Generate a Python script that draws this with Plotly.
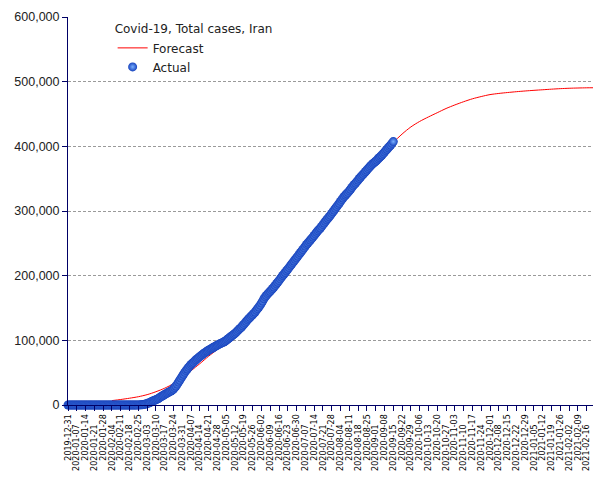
import plotly.graph_objects as go
import pandas as pd

# ---------------- data ----------------
actual_start = "2019-12-31"
actual_cases = [
    # 2019-12-31 .. 2020-02-18
    0, 0, 0, 0, 0, 0, 0, 0, 0, 0, 0, 0, 0, 0, 0, 0, 0, 0, 0, 0, 0, 0, 0, 0, 0,
    0, 0, 0, 0, 0, 0, 0, 0, 0, 0, 0, 0, 0, 0, 0, 0, 0, 0, 0, 0, 0, 0, 0, 0, 0,
    # 2020-02-19 .. 2020-02-29
    2, 5, 18, 28, 43, 61, 95, 139, 245, 388, 593,
    # March
    978, 1501, 2336, 2922, 3513, 4747, 5823, 6566, 7161, 8042, 9000, 10075, 11364,
    12729, 13938, 14991, 16169, 17361, 18407, 19644, 20610, 21638, 23049, 24811,
    27017, 29406, 32332, 35408, 38309, 41495, 44605,
    # April
    47593, 50468, 53183, 55743, 58226, 60500, 62589, 64586, 66220, 68192, 70029,
    71686, 73303, 74877, 76389, 77995, 79494, 80868, 82211, 83505, 84802, 85996,
    87026, 88194, 89328, 90481, 91472, 92584, 93657, 94640,
    # May
    95646, 96448, 97424, 98647, 99970, 101650, 103135, 104691, 106220, 107603,
    109286, 110767, 112725, 114533, 116635, 118392, 120198, 122492, 124603, 126949,
    129341, 131652, 133521, 135701, 137724, 139511, 141591, 143849, 146668, 148950,
    151466,
    # June
    154445, 157562, 160696, 164270, 167156, 169425, 171789, 173832, 175927, 177938,
    180156, 182525, 184955, 187427, 189876, 192439, 195051, 197647, 200262, 202584,
    204952, 207525, 209970, 212501, 215096, 217724, 220180, 222669, 225205, 227662,
    # July
    230211, 232863, 235429, 237878, 240438, 243051, 245688, 248379, 250458, 252720,
    255117, 257303, 259652, 262173, 264561, 267061, 269440, 271606, 273788, 276202,
    278827, 281413, 284034, 286523, 288839, 291172, 293606, 296273, 298909, 301530,
    304204,
    # August
    306752, 309437, 312035, 314786, 317483, 320117, 322567, 324692, 326712, 328844,
    331189, 333699, 336324, 338825, 341070, 343203, 345450, 347835, 350279, 352558,
    354764, 356792, 358905, 361150, 363363, 365606, 367796, 369911, 371816, 373570,
    375212,
    # September 1 .. 15
    376894, 378752, 380746, 382772, 384666, 386658, 388810, 391112, 393425, 395488,
    397801, 399940, 402029, 404648, 407353,
]

forecast_dates = [
    "2020-02-04", "2020-02-11", "2020-02-18", "2020-02-25", "2020-03-03", "2020-03-10",
    "2020-03-17", "2020-03-24", "2020-03-31", "2020-04-07", "2020-04-14", "2020-04-21",
    "2020-04-28", "2020-05-05", "2020-05-12", "2020-05-19", "2020-05-26", "2020-06-02",
    "2020-06-09", "2020-06-16", "2020-06-23", "2020-06-30", "2020-07-07", "2020-07-14",
    "2020-07-21", "2020-07-28", "2020-08-04", "2020-08-11", "2020-08-18", "2020-08-25",
    "2020-09-01", "2020-09-08", "2020-09-15", "2020-09-22", "2020-09-29", "2020-10-06",
    "2020-10-13", "2020-10-20", "2020-10-27", "2020-11-03", "2020-11-10", "2020-11-17",
    "2020-11-24", "2020-12-01", "2020-12-08", "2020-12-15", "2020-12-22", "2020-12-29",
    "2021-01-05", "2021-01-12", "2021-01-19", "2021-01-26", "2021-02-02", "2021-02-09",
    "2021-02-16", "2021-02-21",
]
forecast_cases = [
    6800, 8500, 10500, 12800, 16000, 20500,
    26000, 33000, 42000, 53000, 64000, 75500,
    86000, 97000, 109000, 123000, 139000, 156000,
    174000, 192000, 210000, 227500, 245000, 262000,
    279000, 296000, 313000, 330000, 346000, 362000,
    377000, 392000, 406000, 419000, 430000, 438500,
    445500, 452000, 458500, 464000, 469000, 473500,
    477000, 480000, 481800, 483200, 484500, 485600,
    486600, 487500, 488400, 489200, 489800, 490200,
    490500, 490600,
]

x_range = ["2019-12-31", "2021-02-21"]
tick_start = "2019-12-31"
tick_end = "2021-02-16"
y_ticks = [0, 100000, 200000, 300000, 400000, 500000, 600000]

chart_title = "Covid-19, Total cases, Iran"
forecast_name = "Forecast"
actual_name = "Actual"

# ---------------- figure ----------------
actual_dates = pd.date_range(actual_start, periods=len(actual_cases), freq="D")
tick_dates = pd.date_range(tick_start, tick_end, freq="7D")
pad = '<span style="color:rgba(0,0,0,0)">00</span>'
tick_text = [
    d.strftime("%Y-%m-%d") + (pad if i % 2 == 1 else "")
    for i, d in enumerate(tick_dates)
]

navy = "#000066"

fig = go.Figure()
fig.add_trace(go.Scatter(
    x=pd.to_datetime(forecast_dates), y=forecast_cases, name=forecast_name,
    mode="lines", line=dict(color="#ff0000", width=1, shape="spline", smoothing=0.8),
))
fig.add_trace(go.Scatter(
    x=actual_dates, y=actual_cases, name=actual_name, mode="markers",
    cliponaxis=False,
    marker=dict(size=9, color="#1642bd",
                gradient=dict(type="radial", color="#7ab0ff"),
                line=dict(width=0)),
))

fig.update_layout(
    width=605, height=480,
    margin=dict(l=68, r=12, t=17, b=75, autoexpand=False),
    plot_bgcolor="white", paper_bgcolor="white",
    showlegend=True,
    legend=dict(
        x=0.085, y=0.998, xanchor="left", yanchor="top",
        bgcolor="rgba(0,0,0,0)", borderwidth=0,
        font=dict(family="DejaVu Sans", size=12, color="#222"),
        title=dict(text=chart_title, font=dict(family="DejaVu Sans", size=12, color="#222"),
                   side="top"),
        itemwidth=30, tracegroupgap=0,
    ),
    xaxis=dict(
        type="date", range=x_range, automargin=False,
        tickmode="array", tickvals=tick_dates, ticktext=tick_text,
        tickangle=-90, tickfont=dict(family="DejaVu Sans", size=8, color="#000"),
        showline=True, linecolor=navy, linewidth=1,
        ticks="outside", ticklen=5, tickcolor=navy,
        showgrid=False, zeroline=False,
    ),
    yaxis=dict(
        range=[0, 600000], tickmode="array", tickvals=y_ticks, tickformat=",",
        automargin=False,
        tickfont=dict(family="Liberation Sans", size=12.5, color="#222"),
        showline=True, linecolor=navy, linewidth=1,
        ticks="outside", ticklen=5, tickcolor=navy,
        showgrid=True, gridcolor="#9a9a9a", gridwidth=1, griddash="3px,2px",
        zeroline=False,
    ),
)

fig.write_html("out.html")
